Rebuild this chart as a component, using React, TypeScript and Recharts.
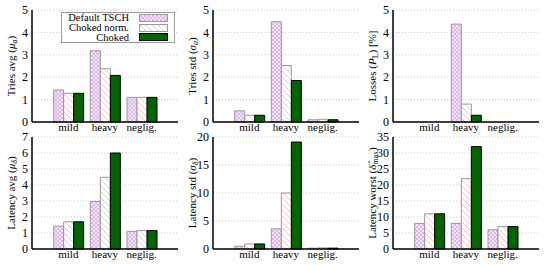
import { BarChart, Bar, XAxis, YAxis, CartesianGrid, Legend } from "recharts";

const FONT = '"Liberation Serif", "DejaVu Serif", serif';

const categories = ["mild", "heavy", "neglig."];

// tries
const triesAvgDefault = [1.43, 3.18, 1.1];
const triesAvgNorm = [1.28, 2.38, 1.1];
const triesAvgChoked = [1.28, 2.08, 1.1];

const triesStdDefault = [0.5, 4.48, 0.1];
const triesStdNorm = [0.3, 2.52, 0.12];
const triesStdChoked = [0.3, 1.85, 0.1];

const lossesDefault = [0, 4.37, 0];
const lossesNorm = [0, 0.8, 0];
const lossesChoked = [0, 0.3, 0];

// latency
const latAvgDefault = [1.43, 2.97, 1.1];
const latAvgNorm = [1.7, 4.48, 1.15];
const latAvgChoked = [1.7, 6.0, 1.15];

const latStdDefault = [0.5, 3.6, 0.15];
const latStdNorm = [0.9, 10.0, 0.2];
const latStdChoked = [0.9, 19.1, 0.15];

const latWorstDefault = [8, 8, 6];
const latWorstNorm = [11, 22, 7];
const latWorstChoked = [11, 32, 7];

const ticks0to5 = [0, 1, 2, 3, 4, 5];
const ticks0to7 = [0, 1, 2, 3, 4, 5, 6, 7];
const ticksStd = [0, 5, 10, 15, 20];
const ticksWorst = [0, 5, 10, 15, 20, 25, 30, 35];

const seriesNames = ["Default TSCH", "Choked norm.", "Choked"];

function makeRows(d: number[], n: number[], c: number[]) {
  return categories.map((cat, i) => ({ cat, dflt: d[i], norm: n[i], choked: c[i] }));
}

const Sub = ({ children }: { children: any }) => (
  <>
    <tspan dy={3} fontSize={8}>{children}</tspan>
    <tspan dy={-3}>)</tspan>
  </>
);

function LegendBox(props: any) {
  const entries = [...(props.payload || [])].sort(
    (a: any, b: any) => seriesNames.indexOf(a.value) - seriesNames.indexOf(b.value)
  );
  return (
    <div
      style={{
        width: 112,
        height: 29,
        border: "1px solid #9a9a9a",
        background: "#fff",
        fontFamily: FONT,
        fontSize: 10.5,
        color: "#000",
        overflow: "hidden",
      }}
    >
      {entries.map((e: any, i: number) => (
        <div key={i} style={{ display: "flex", alignItems: "center", height: 9.7, lineHeight: "9px" }}>
          <span style={{ width: 67, flexShrink: 0, textAlign: "right", whiteSpace: "nowrap" }}>{e.value}</span>
          <svg width={29} height={8} style={{ marginLeft: 10, flexShrink: 0 }}>
            <rect x={0.5} y={0.5} width={28} height={7} fill={e.color} stroke={i === 2 ? "#000" : "#9a9a9a"} />
          </svg>
        </div>
      ))}
    </div>
  );
}

interface PanelProps {
  id: string;
  left: number;
  top: number;
  rows: any[];
  yTicks: number[];
  title: any;
  legend?: boolean;
}

function Panel({ id, left, top, rows, yTicks, title, legend }: PanelProps) {
  const yMax = yTicks[yTicks.length - 1];
  return (
    <div style={{ position: "absolute", left, top }}>
      <BarChart
        width={181}
        height={136}
        data={rows}
        margin={{ top: 10, right: 3, bottom: 0, left: 0 }}
        barCategoryGap="10%"
        barGap={0}
      >
        <defs>
          <pattern id={`${id}-d`} width={4} height={4} patternUnits="userSpaceOnUse">
            <rect width={4} height={4} fill="#f1e2f7" />
            <path d="M0,0 L4,4 M4,0 L0,4" stroke="#d6a6e4" strokeWidth={0.7} />
          </pattern>
          <pattern id={`${id}-n`} width={6} height={6} patternUnits="userSpaceOnUse">
            <rect width={6} height={6} fill="#fff" />
            <path d="M0,0 L6,6 M-1,5 L1,7 M5,-1 L7,1" stroke="#f2b4b4" strokeWidth={0.8} />
          </pattern>
        </defs>
        <CartesianGrid vertical={false} stroke="#c8c8c8" strokeDasharray="1 2" />
        <XAxis
          dataKey="cat"
          padding={{ left: 18, right: 18 }}
          height={14}
          interval={0}
          tickLine={false}
          tickSize={0}
          tickMargin={1}
          axisLine={{ stroke: "#000", strokeWidth: 1.5 }}
          tick={{ fill: "#000", fontSize: 11, fontFamily: FONT }}
        />
        <XAxis
          xAxisId="top"
          orientation="top"
          dataKey="cat"
          height={0}
          tick={false}
          tickLine={false}
          axisLine={{ stroke: "#000", strokeWidth: 1.5 }}
        />
        <YAxis
          width={32}
          type="number"
          domain={[0, yMax]}
          ticks={yTicks}
          interval={0}
          tickLine={false}
          tickSize={0}
          tickMargin={4}
          axisLine={{ stroke: "#000", strokeWidth: 1.5 }}
          tick={{ fill: "#000", fontSize: 12, fontFamily: FONT }}
          label={{
            content: (p: any) => {
              const vb = p.viewBox || { x: 0, y: 10, height: 112 };
              const cx = vb.x + 11;
              const cy = vb.y + vb.height / 2;
              return (
                <text
                  x={cx}
                  y={cy}
                  transform={`rotate(-90 ${cx} ${cy})`}
                  textAnchor="middle"
                  dominantBaseline="central"
                  fontFamily={FONT}
                  fontSize={11}
                  fill="#000"
                >
                  {title}
                </text>
              );
            },
          }}
        />
        <YAxis
          yAxisId="r"
          orientation="right"
          width={0}
          type="number"
          domain={[0, 1]}
          tick={false}
          tickLine={false}
          axisLine={{ stroke: "#000", strokeWidth: 1.5 }}
        />
        <Bar dataKey="dflt" name={seriesNames[0]} fill={`url(#${id}-d)`} stroke="#9a9a9a" isAnimationActive={false} />
        <Bar dataKey="norm" name={seriesNames[1]} fill={`url(#${id}-n)`} stroke="#9a9a9a" isAnimationActive={false} />
        <Bar dataKey="choked" name={seriesNames[2]} fill="#006400" stroke="#000" isAnimationActive={false} />
        {legend && (
          <Legend
            verticalAlign="middle"
            align="center"
            layout="horizontal"
            wrapperStyle={{ left: 61, top: 12, width: 114, height: 31 }}
            content={LegendBox}
          />
        )}
      </BarChart>
    </div>
  );
}

export default function App() {
  return (
    <div style={{ position: "absolute", left: 0, top: 0, width: 550, height: 265, background: "#fff" }}>
      <Panel
        id="ta"
        left={0}
        top={0}
        rows={makeRows(triesAvgDefault, triesAvgNorm, triesAvgChoked)}
        yTicks={ticks0to5}
        legend
        title={<>Tries avg (<tspan fontStyle="italic">μ</tspan><Sub><tspan fontStyle="italic">a</tspan></Sub></>}
      />
      <Panel
        id="ts"
        left={181}
        top={0}
        rows={makeRows(triesStdDefault, triesStdNorm, triesStdChoked)}
        yTicks={ticks0to5}
        title={<>Tries std (<tspan fontStyle="italic">σ</tspan><Sub><tspan fontStyle="italic">a</tspan></Sub></>}
      />
      <Panel
        id="lo"
        left={361}
        top={0}
        rows={makeRows(lossesDefault, lossesNorm, lossesChoked)}
        yTicks={ticks0to5}
        title={<>Losses (<tspan fontStyle="italic">P</tspan><tspan dy={3} fontSize={8}>L</tspan><tspan dy={-3}>) [%]</tspan></>}
      />
      <Panel
        id="la"
        left={0}
        top={127}
        rows={makeRows(latAvgDefault, latAvgNorm, latAvgChoked)}
        yTicks={ticks0to7}
        title={<>Latency avg (<tspan fontStyle="italic">μ</tspan><Sub><tspan fontStyle="italic">δ</tspan></Sub></>}
      />
      <Panel
        id="ls"
        left={181}
        top={127}
        rows={makeRows(latStdDefault, latStdNorm, latStdChoked)}
        yTicks={ticksStd}
        title={<>Latency std (<tspan fontStyle="italic">σ</tspan><Sub><tspan fontStyle="italic">δ</tspan></Sub></>}
      />
      <Panel
        id="lw"
        left={361}
        top={127}
        rows={makeRows(latWorstDefault, latWorstNorm, latWorstChoked)}
        yTicks={ticksWorst}
        title={<>Latency worst (<tspan fontStyle="italic">δ̂</tspan><Sub>max</Sub></>}
      />
    </div>
  );
}
